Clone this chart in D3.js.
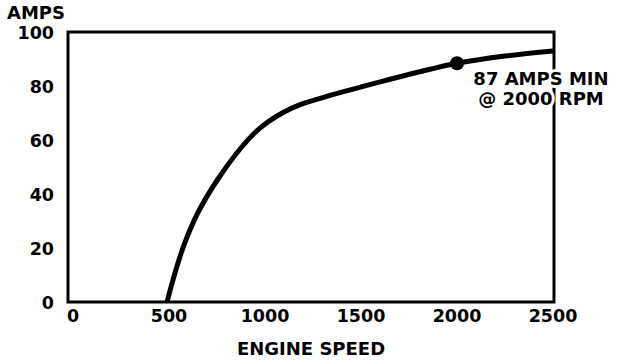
<!DOCTYPE html>
<html lang="en">
<head>
    <meta charset="UTF-8">
    <title>Amps vs Engine Speed</title>
    <script src="https://d3js.org/d3.v7.min.js"></script>
    <style>
        body {
            margin: 0;
            background-color: #fff;
        }
        svg {
            display: block;
            background-color: #fff;
        }
        text {
            font-family: 'DejaVu Sans', sans-serif;
            font-weight: bold;
            fill: #000;
        }
        .tick-label {
            font-size: 17.5px;
        }
        .axis-title {
            font-size: 18px;
        }
        .frame {
            fill: none;
            stroke: #000;
            stroke-width: 3;
        }
        .curve {
            fill: none;
            stroke: #000;
            stroke-width: 5;
            stroke-linejoin: round;
        }
        .note {
            font-size: 18px;
            text-anchor: middle;
            stroke: #fff;
            stroke-width: 6;
            paint-order: stroke;
        }
    </style>
</head>
<body>
    <svg width="624" height="364"></svg>

    <script>
        // values
        const rpm  = [490, 520, 575, 650, 750, 880, 975, 1090, 1180, 1340, 1600, 1860, 2000, 2250, 2500];
        const amps = [0, 8, 20.5, 33, 45, 57.5, 64.5, 70, 73, 76.5, 81.5, 86.2, 88.4, 91.1, 93];
        const xTicks = [0, 500, 1000, 1500, 2000, 2500];
        const yTicks = [0, 20, 40, 60, 80, 100];
        const marker = {rpm: 2000, amps: 88.4};
        const noteLines = ["87 AMPS MIN", "@ 2000 RPM"];

        const svg = d3.select("svg");
        const frame = {left: 68, right: 554, top: 32, bottom: 302};

        const x = d3.scaleLinear([0, 2500], [73, 553]);
        const y = d3.scaleLinear([0, 100], [frame.bottom, frame.top]);

        const data = rpm.map((r, i) => ({rpm: r, amps: amps[i]}));

        // box around the plot
        svg.append("path")
            .attr("class", "frame")
            .attr("d", `M${frame.left},${frame.top}H${frame.right}V${frame.bottom}H${frame.left}Z`);

        // y labels
        svg.append("g").selectAll("text")
            .data(yTicks)
            .join("text")
            .attr("class", "tick-label")
            .attr("x", 54)
            .attr("y", d => y(d))
            .attr("dy", "0.4em")
            .attr("text-anchor", "end")
            .text(d => d);

        // x labels
        svg.append("g").selectAll("text")
            .data(xTicks)
            .join("text")
            .attr("class", "tick-label")
            .attr("x", d => x(d))
            .attr("y", 322)
            .attr("text-anchor", "middle")
            .text(d => d);

        svg.append("text")
            .attr("class", "axis-title")
            .attr("x", 7)
            .attr("y", 19)
            .text("AMPS");

        svg.append("text")
            .attr("class", "axis-title")
            .attr("x", 311)
            .attr("y", 355)
            .attr("text-anchor", "middle")
            .text("ENGINE SPEED");

        const line = d3.line()
            .x(d => x(d.rpm))
            .y(d => y(d.amps))
            .curve(d3.curveCatmullRom.alpha(0.5));

        svg.append("path")
            .datum(data)
            .attr("class", "curve")
            .attr("d", line);

        svg.append("circle")
            .attr("cx", x(marker.rpm))
            .attr("cy", y(marker.amps))
            .attr("r", 7)
            .attr("fill", "#000");

        svg.append("g").selectAll("text")
            .data(noteLines)
            .join("text")
            .attr("class", "note")
            .attr("x", 541)
            .attr("y", (d, i) => 85 + i * 20)
            .text(d => d);
    </script>
</body>
</html>
